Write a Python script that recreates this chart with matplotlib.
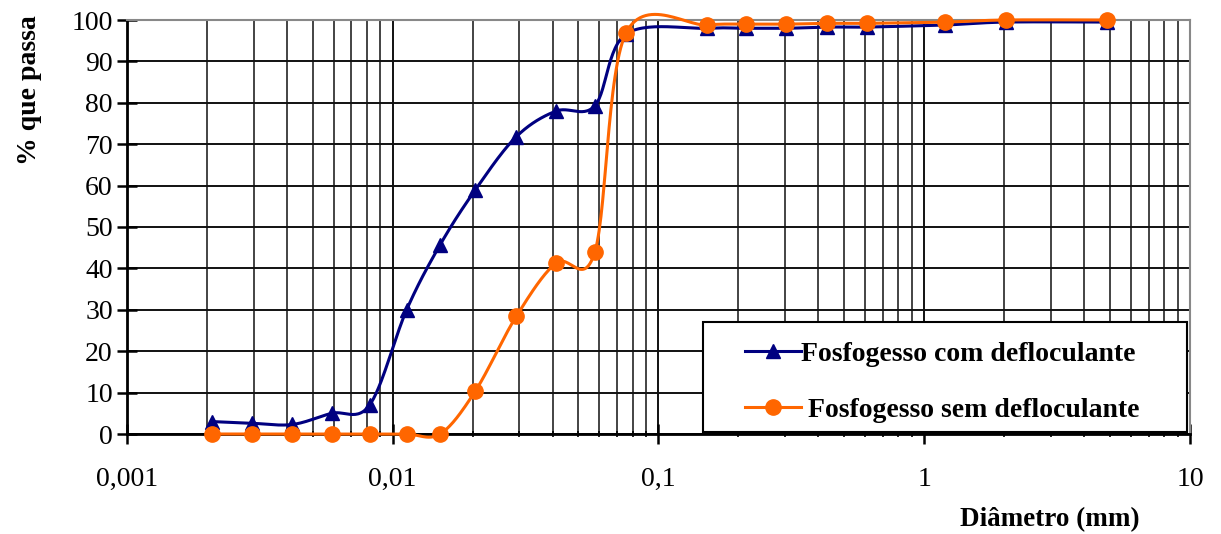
import numpy as np
import matplotlib
matplotlib.use('Agg')
import matplotlib.pyplot as plt
from matplotlib.ticker import LogLocator, FixedLocator, FixedFormatter, NullFormatter
from matplotlib.lines import Line2D
from matplotlib.patches import Rectangle

# diametro (mm) e % que passa
d_com = [0.0021, 0.00295, 0.0042, 0.0059, 0.0082, 0.0113, 0.0151, 0.0205, 0.0292,
         0.0412, 0.0577, 0.0755, 0.152, 0.213, 0.303, 0.432, 0.611, 1.2, 2.03, 4.86]
p_com = [3.0, 2.6, 2.3, 5.0, 7.0, 30.0, 45.7, 59.0, 71.8, 78.0, 79.3, 96.6,
         98.0, 98.0, 98.0, 98.3, 98.3, 98.8, 99.5, 99.5]

d_sem = d_com
p_sem = [0.0, 0.0, 0.0, 0.0, 0.0, 0.0, 0.0, 10.4, 28.4, 41.3, 44.0, 96.8,
         98.8, 99.0, 99.0, 99.2, 99.2, 99.5, 100.0, 100.0]

xticks = [0.001, 0.01, 0.1, 1, 10]
xticklabels = ['0,001', '0,01', '0,1', '1', '10']
yticks = list(range(0, 101, 10))

lab_com = 'Fosfogesso com defloculante'
lab_sem = ' Fosfogesso sem defloculante'

AZUL = '#000080'
LARANJA = '#FF6600'


def suaviza(xx, yy, npts=30):
    # curva suavizada estilo Excel (Bezier com tangentes de Catmull-Rom), em log x
    uu = np.log10(np.array(xx, dtype=float))
    vv = np.array(yy, dtype=float)
    nn = len(uu)
    out_u = []
    out_v = []
    tt = np.linspace(0, 1, npts)
    for ii in range(nn - 1):
        p0 = np.array([uu[ii], vv[ii]])
        p3 = np.array([uu[ii + 1], vv[ii + 1]])
        prev = np.array([uu[max(ii - 1, 0)], vv[max(ii - 1, 0)]])
        nxt = np.array([uu[min(ii + 2, nn - 1)], vv[min(ii + 2, nn - 1)]])
        p1 = p0 + (p3 - prev) / 6.0
        p2 = p3 - (nxt - p0) / 6.0
        for t in tt:
            b = ((1 - t)**3) * p0 + 3 * ((1 - t)**2) * t * p1 + 3 * (1 - t) * t**2 * p2 + t**3 * p3
            out_u.append(b[0])
            out_v.append(b[1])
    return 10**np.array(out_u), np.array(out_v)


plt.rcParams['font.family'] = ['Liberation Serif', 'DejaVu Serif']

fig = plt.figure(figsize=(12.21, 5.34), dpi=100)
ax = fig.add_axes([126.7 / 1221, 100 / 534, 1063.3 / 1221, 414 / 534])

ax.set_xscale('log')
ax.set_xlim(0.001, 10)
ax.set_ylim(0, 100)

# grade
ax.xaxis.set_major_locator(FixedLocator(xticks))
ax.xaxis.set_major_formatter(FixedFormatter(xticklabels))
ax.xaxis.set_minor_locator(LogLocator(base=10, subs=np.arange(2, 10)))
ax.xaxis.set_minor_formatter(NullFormatter())
ax.set_yticks(yticks)
ax.grid(True, which='major', axis='both', color='#111111', linewidth=1.4)
ax.grid(True, which='minor', axis='x', color='#111111', linewidth=1.1)
ax.set_axisbelow(True)

ax.tick_params(axis='y', which='major', direction='inout', length=14, width=1.8,
               labelsize=20, pad=3)
ax.tick_params(axis='x', which='major', direction='inout', length=14, width=1.8,
               labelsize=20, pad=17)
ax.tick_params(axis='x', which='minor', direction='inout', length=5, width=1.2)

for s in ['top', 'right']:
    ax.spines[s].set_color('#888888')
    ax.spines[s].set_linewidth(1.5)
for s in ['left', 'bottom']:
    ax.spines[s].set_color('black')
    ax.spines[s].set_linewidth(2.0)

sx, sy = suaviza(d_com, p_com)
ax.plot(sx, sy, color=AZUL, linewidth=2.2, zorder=3)
ax.plot(d_com, p_com, linestyle='none', marker='^', markersize=10, color=AZUL, zorder=4)

sx, sy = suaviza(d_sem, p_sem)
ax.plot(sx, sy, color=LARANJA, linewidth=2.2, zorder=5, clip_on=False)
ax.plot(d_sem, p_sem, linestyle='none', marker='o', markersize=11, color=LARANJA,
        zorder=6, clip_on=False)

# caixa da legenda
caixa = Rectangle((0.542, 0.005), 0.455, 0.2655, transform=ax.transAxes,
                  facecolor='white', edgecolor='black', linewidth=1.5, zorder=9)
ax.add_patch(caixa)

handles = [Line2D([], [], color=AZUL, linewidth=2.2, marker='^', markersize=10),
           Line2D([], [], color=LARANJA, linewidth=2.2, marker='o', markersize=11)]
leg = ax.legend(handles, [lab_com, lab_sem], loc='upper left',
                bbox_to_anchor=(0.5815, 0.224), frameon=False, borderaxespad=0,
                prop={'weight': 'bold', 'size': 20}, handlelength=2.0,
                handletextpad=0.0, labelspacing=1.1, borderpad=0)
leg.set_zorder(10)

fig.text(30 / 1221, 1 - 90 / 534, '% que passa', rotation=90, fontsize=20,
         fontweight='bold', ha='center', va='center')
fig.text(1050 / 1221, 1 - 520 / 534, 'Diâmetro (mm)', fontsize=19.5,
         fontweight='bold', ha='center', va='center')

fig.savefig('out.png', dpi=100)
